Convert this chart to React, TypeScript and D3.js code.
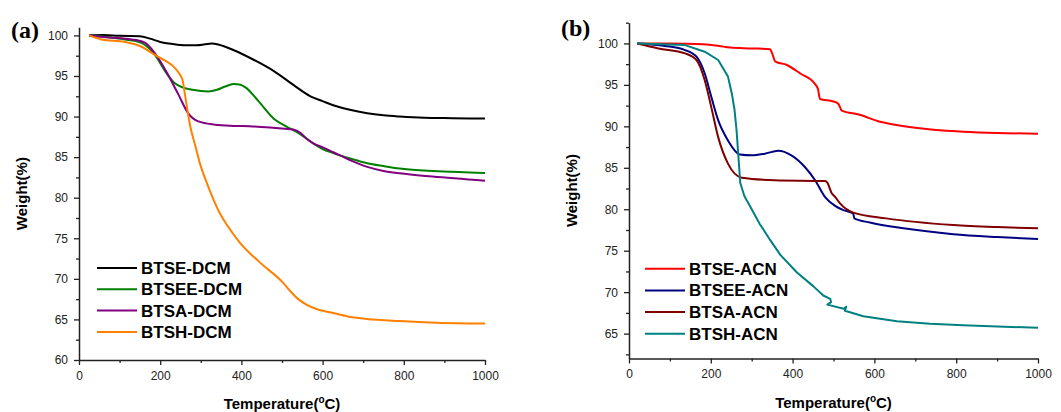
import * as d3 from "d3";
import React, { useEffect, useRef } from "react";

type Pt = [number, number];

// temperature ticks (both panels)
const majorTemps = [0, 200, 400, 600, 800, 1000];
const minorTemps = [100, 300, 500, 700, 900];

// panel (a) - DCM series
const namesDCM = ["BTSE-DCM", "BTSEE-DCM", "BTSA-DCM", "BTSH-DCM"];
const colorsDCM = ["#000000", "#008000", "#800080", "#ff8000"];
const weightTicksA = [60, 65, 70, 75, 80, 85, 90, 95, 100];
const minorWeightsA = [62.5, 67.5, 72.5, 77.5, 82.5, 87.5, 92.5, 97.5];

const btseDCM: Pt[] = [[25,100],[60,100.05],[100,99.95],[150,99.9],[175,99.6],[200,99.2],[230,98.95],[260,98.8],[290,98.8],[310,98.9],[327,99.0],[345,98.85],[380,98.2],[430,97.0],[480,95.6],[528,93.9],[570,92.5],[600,91.9],[626,91.4],[670,90.8],[710,90.4],[750,90.15],[790,90.0],[850,89.85],[920,89.8],[1000,89.75]];
const btseeDCM: Pt[] = [[25,100],[70,99.8],[113,99.5],[140,99.3],[162,98.85],[187,97.6],[212,95.6],[236,94.1],[255,93.6],[280,93.3],[318,93.1],[340,93.3],[360,93.7],[380,94.0],[395,93.95],[410,93.6],[442,91.9],[483,89.6],[510,88.8],[540,88.0],[577,86.7],[600,86.0],[626,85.5],[670,84.8],[710,84.25],[750,83.9],[790,83.6],[850,83.35],[920,83.2],[1000,83.05]];
const btsaDCM: Pt[] = [[25,100],[72,99.75],[130,99.5],[162,99.1],[187,97.8],[220,95.1],[245,92.7],[269,90.4],[294,89.4],[335,89.0],[380,88.85],[420,88.8],[470,88.65],[507,88.5],[528,88.4],[545,88.0],[560,87.3],[577,86.7],[600,86.2],[626,85.6],[667,84.65],[710,83.8],[750,83.3],[790,83.0],[870,82.6],[1000,82.1]];
const btshDCM: Pt[] = [[25,100],[56,99.5],[113,99.2],[154,98.6],[187,97.6],[212,96.9],[236,96.0],[248,95.2],[255,94.5],[262,92.4],[268,90.5],[274,88.8],[286,86.5],[298,84.2],[315,81.8],[331,79.8],[350,77.8],[365,76.6],[397,74.4],[446,72.0],[503,69.5],[520,68.5],[540,67.5],[561,66.8],[590,66.2],[626,65.8],[670,65.3],[709,65.06],[790,64.8],[880,64.6],[1000,64.5]];

// panel (b) - ACN series
const namesACN = ["BTSE-ACN", "BTSEE-ACN", "BTSA-ACN", "BTSH-ACN"];
const colorsACN = ["#ff0000", "#000080", "#800000", "#008080"];
const weightTicksB = [65, 70, 75, 80, 85, 90, 95, 100];
const minorWeightsB = [62.5, 67.5, 72.5, 77.5, 82.5, 87.5, 92.5, 97.5, 102.5];

const btseACN: Pt[] = [[20,100],[100,100],[182,99.9],[220,99.7],[247,99.5],[300,99.4],[345,99.3],[350,98.8],[358,97.8],[386,97.4],[418,96.4],[455,95.1],[462,94.5],[467,93.3],[500,93.0],[512,92.7],[517,92.2],[520,91.9],[564,91.4],[614,90.55],[650,90.2],[695,89.85],[750,89.55],[818,89.35],[900,89.2],[1000,89.1]];
const btseeACN: Pt[] = [[20,100],[88,99.7],[137,99.2],[165,98.4],[185,96.4],[201,93.6],[218,90.75],[242,88.3],[271,86.6],[300,86.5],[332,86.7],[365,87.05],[397,86.5],[430,85.1],[455,83.5],[479,81.5],[504,80.4],[524,79.9],[548,79.5],[551,78.9],[589,78.4],[671,77.7],[793,77.0],[900,76.65],[1000,76.4]];
const btsaACN: Pt[] = [[20,100],[72,99.4],[137,98.8],[165,98.0],[185,95.6],[201,92.35],[218,88.7],[242,85.5],[276,83.8],[357,83.5],[479,83.4],[485,83.2],[495,82.0],[504,81.5],[516,80.7],[548,79.6],[629,78.9],[793,78.1],[900,77.85],[1000,77.7]];
const btshACN: Pt[] = [[20,100],[137,99.8],[185,99.0],[218,98.0],[242,96.0],[252,93.8],[258,92.0],[263,89.5],[268,86.0],[272,83.2],[282,81.6],[300,80.0],[320,78.2],[345,76.3],[370,74.5],[410,72.4],[451,70.7],[475,69.6],[492,69.2],[494,68.8],[485,68.5],[525,68.0],[531,68.25],[528,67.75],[573,67.1],[655,66.5],[736,66.2],[817,66.0],[1000,65.7]];

const sans = "'Liberation Sans', Arial, sans-serif";
const serif = "'Liberation Serif', 'Times New Roman', serif";

function drawPanel(svg, cfg) {
  const x = d3.scaleLinear().domain([0, 1000]).range([cfg.left, cfg.right]);
  const y = d3.scaleLinear().domain(cfg.yDomain).range([cfg.bottom, cfg.top]);
  const g = svg.append("g");

  // minor ticks
  g.append("g")
    .attr("transform", `translate(0,${cfg.bottom})`)
    .call(d3.axisBottom(x).tickValues(minorTemps).tickSize(3).tickFormat(() => ""))
    .call((a) => a.select(".domain").remove());
  g.append("g")
    .attr("transform", `translate(${cfg.left},0)`)
    .call(d3.axisLeft(y).tickValues(cfg.minorY).tickSize(3).tickFormat(() => ""))
    .call((a) => a.select(".domain").remove());

  // major axes
  const xAxis = g.append("g")
    .attr("transform", `translate(0,${cfg.bottom})`)
    .call(d3.axisBottom(x).tickValues(majorTemps).tickFormat(d3.format("d")).tickSize(5).tickSizeOuter(0).tickPadding(6));
  const yAxis = g.append("g")
    .attr("transform", `translate(${cfg.left},0)`)
    .call(d3.axisLeft(y).tickValues(cfg.yTicks).tickFormat(d3.format("d")).tickSize(5).tickSizeOuter(0).tickPadding(6));
  [xAxis, yAxis].forEach((a) => {
    a.attr("font-family", sans).attr("font-size", 12);
    a.selectAll("text").attr("fill", "#222");
  });
  g.selectAll("line").attr("stroke", "#222").attr("stroke-width", 1.3);
  g.selectAll(".domain").attr("stroke", "#222").attr("stroke-width", 1.5);

  // curves
  const line = d3.line<Pt>().x((d) => x(d[0])).y((d) => y(d[1])).curve(d3.curveMonotoneX);
  const lineRaw = d3.line<Pt>().x((d) => x(d[0])).y((d) => y(d[1])).curve(d3.curveLinear);
  cfg.series.forEach((s, i) => {
    const monotone = s.every((p, j) => j === 0 || p[0] > s[j - 1][0]);
    g.append("path")
      .attr("d", monotone ? line(s) : lineRaw(s))
      .attr("fill", "none")
      .attr("stroke", cfg.colors[i])
      .attr("stroke-width", 2)
      .attr("stroke-linejoin", "round");
  });

  // legend
  cfg.names.forEach((n, i) => {
    const ly = cfg.legendY + i * cfg.legendGap;
    g.append("line")
      .attr("x1", cfg.legendX).attr("x2", cfg.legendX + 40)
      .attr("y1", ly).attr("y2", ly)
      .attr("stroke", cfg.colors[i]).attr("stroke-width", 2);
    g.append("text")
      .attr("x", cfg.legendX + 44).attr("y", ly + 6)
      .attr("font-family", sans).attr("font-weight", "bold").attr("font-size", 17)
      .text(n);
  });

  // axis titles
  const xt = g.append("text")
    .attr("x", (cfg.left + cfg.right) / 2).attr("y", cfg.xTitleY)
    .attr("text-anchor", "middle")
    .attr("font-family", sans).attr("font-weight", "bold").attr("font-size", 15);
  xt.append("tspan").text("Temperature(");
  xt.append("tspan").attr("font-size", 10).attr("dy", -6).text("o");
  xt.append("tspan").attr("dy", 6).text("C)");

  g.append("text")
    .attr("transform", `translate(${cfg.yTitleX},${(cfg.top + cfg.bottom) / 2}) rotate(-90)`)
    .attr("text-anchor", "middle").attr("dy", "0.35em")
    .attr("font-family", sans).attr("font-weight", "bold").attr("font-size", 15)
    .text("Weight(%)");

  // panel tag
  g.append("text")
    .attr("x", cfg.tagX).attr("y", cfg.tagY)
    .attr("font-family", serif).attr("font-weight", "bold").attr("font-size", 24)
    .text(cfg.tag);
}

export default function App() {
  const svgRef = useRef(null);

  useEffect(() => {
    const svg = d3.select(svgRef.current);
    svg.selectAll("*").remove();

    drawPanel(svg, {
      left: 79, right: 485, top: 27.3, bottom: 360,
      yDomain: [60, 101], yTicks: weightTicksA, minorY: minorWeightsA,
      series: [btseDCM, btseeDCM, btsaDCM, btshDCM],
      names: namesDCM, colors: colorsDCM,
      legendX: 97, legendY: 268, legendGap: 21.3,
      xTitleY: 409, yTitleX: 22,
      tag: "(a)", tagX: 11, tagY: 38,
    });

    drawPanel(svg, {
      left: 629, right: 1038, top: 22.7, bottom: 358.5,
      yDomain: [62, 102.5], yTicks: weightTicksB, minorY: minorWeightsB,
      series: [btseACN, btseeACN, btsaACN, btshACN],
      names: namesACN, colors: colorsACN,
      legendX: 645, legendY: 268.7, legendGap: 21.7,
      xTitleY: 408, yTitleX: 572,
      tag: "(b)", tagX: 561, tagY: 36,
    });
  }, []);

  return (
    <div style={{ position: "absolute", left: 0, top: 0 }}>
      <svg ref={svgRef} width={1061} height={412} style={{ display: "block", background: "#fff" }} />
    </div>
  );
}
